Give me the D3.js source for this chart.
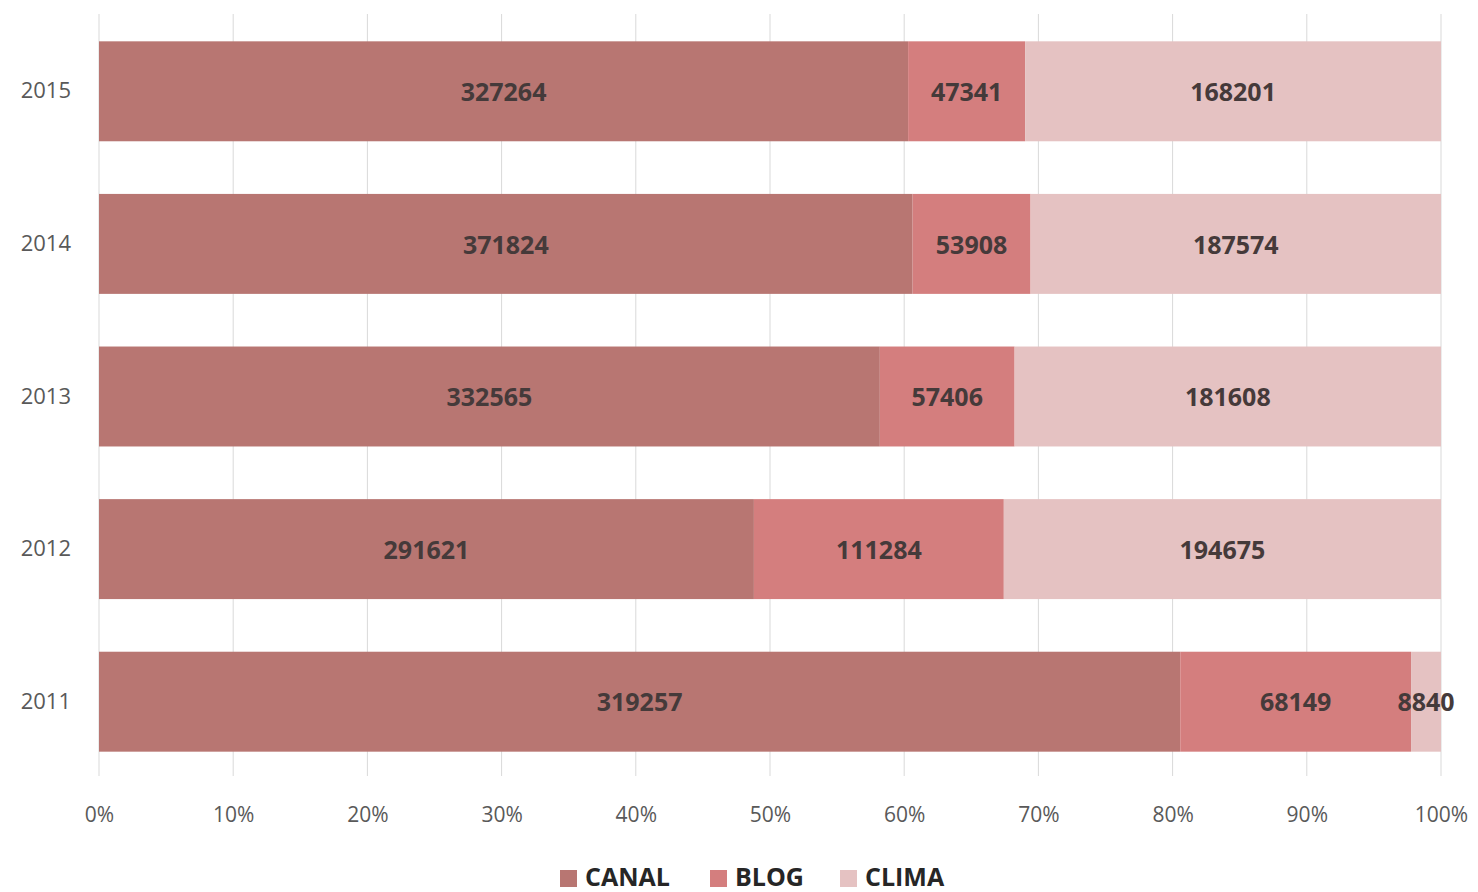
<!DOCTYPE html>
<html>
<head>
<meta charset="utf-8">
<script src="https://cdn.jsdelivr.net/npm/d3@7"></script>
<style>
  body { margin: 0; background: #fff; }
  svg { font-family: "Open Sans", "Liberation Sans", sans-serif; }
</style>
</head>
<body>
<div id="chart"></div>
<script>
var years = ['2015', '2014', '2013', '2012', '2011'];
var series = ['CANAL', 'BLOG', 'CLIMA'];
var canal = [327264, 371824, 332565, 291621, 319257];
var blog  = [47341, 53908, 57406, 111284, 68149];
var clima = [168201, 187574, 181608, 194675, 8840];
var ticks = [0, 0.1, 0.2, 0.3, 0.4, 0.5, 0.6, 0.7, 0.8, 0.9, 1];
var colors = ['#b87672', '#d47e7e', '#e5c2c2'];

var rows = years.map(function(y, i) {
    return { year: y, CANAL: canal[i], BLOG: blog[i], CLIMA: clima[i] };
});

var svg = d3.select('#chart').append('svg').attr('width', 1478).attr('height', 892);

var x = d3.scaleLinear().domain([0, 1]).range([99, 1441]);
var y = d3.scaleBand().domain(years).range([15, 778]).paddingInner(0.345).paddingOuter(0.1725);

// grid
svg.append('g').selectAll('line').data(ticks).enter().append('line')
    .attr('x1', function(d) { return x(d); }).attr('x2', function(d) { return x(d); })
    .attr('y1', 14).attr('y2', 776)
    .style('stroke', '#d9d9d9').style('stroke-width', 1);

var stack = d3.stack().keys(series).offset(d3.stackOffsetExpand);
var layers = stack(rows);

var g = svg.append('g');
layers.forEach(function(layer, k) {
    g.selectAll('rect.s' + k).data(layer).enter().append('rect')
        .attr('class', 's' + k)
        .attr('x', function(d) { return x(d[0]); })
        .attr('width', function(d) { return x(d[1]) - x(d[0]); })
        .attr('y', function(d) { return y(d.data.year); })
        .attr('height', y.bandwidth())
        .attr('fill', colors[k]);
});
layers.forEach(function(layer, k) {
    g.selectAll('text.s' + k).data(layer).enter().append('text')
        .attr('class', 's' + k)
        .attr('x', function(d) { return (x(d[0]) + x(d[1])) / 2; })
        .attr('y', function(d) { return y(d.data.year) + y.bandwidth() / 2 + 1; })
        .attr('dy', '0.35em')
        .attr('text-anchor', 'middle')
        .attr('font-size', '25px')
        .attr('font-weight', 'bold')
        .style('fill', '#453a3a')
        .text(function(d) { return d.data[layer.key]; });
});

// y labels
var yAxis = svg.append('g').attr('transform', 'translate(71,0)')
    .call(d3.axisLeft(y).tickSize(0).tickPadding(0));
yAxis.select('.domain').remove();
yAxis.selectAll('text').attr('font-size', '22px').style('fill', '#595959')
    .attr('font-family', '"Open Sans", sans-serif');

// x labels
var xAxis = svg.append('g').attr('transform', 'translate(0,795)')
    .call(d3.axisBottom(x).tickValues(ticks).tickFormat(d3.format('.0%')).tickSize(0).tickPadding(12));
xAxis.select('.domain').remove();
xAxis.selectAll('text').attr('font-size', '21px').style('fill', '#595959')
    .attr('font-family', '"Open Sans", sans-serif');

// legend
var legX = [560, 710, 840];
var leg = svg.append('g');
series.forEach(function(s, k) {
    leg.append('rect').attr('x', legX[k]).attr('y', 870).attr('width', 17).attr('height', 17).attr('fill', colors[k]);
    leg.append('text').attr('x', legX[k] + 25).attr('y', 877).attr('dy', '0.35em')
        .attr('font-size', '25px').attr('font-weight', 'bold').style('fill', '#262626')
        .text(s);
});
</script>
</body>
</html>
